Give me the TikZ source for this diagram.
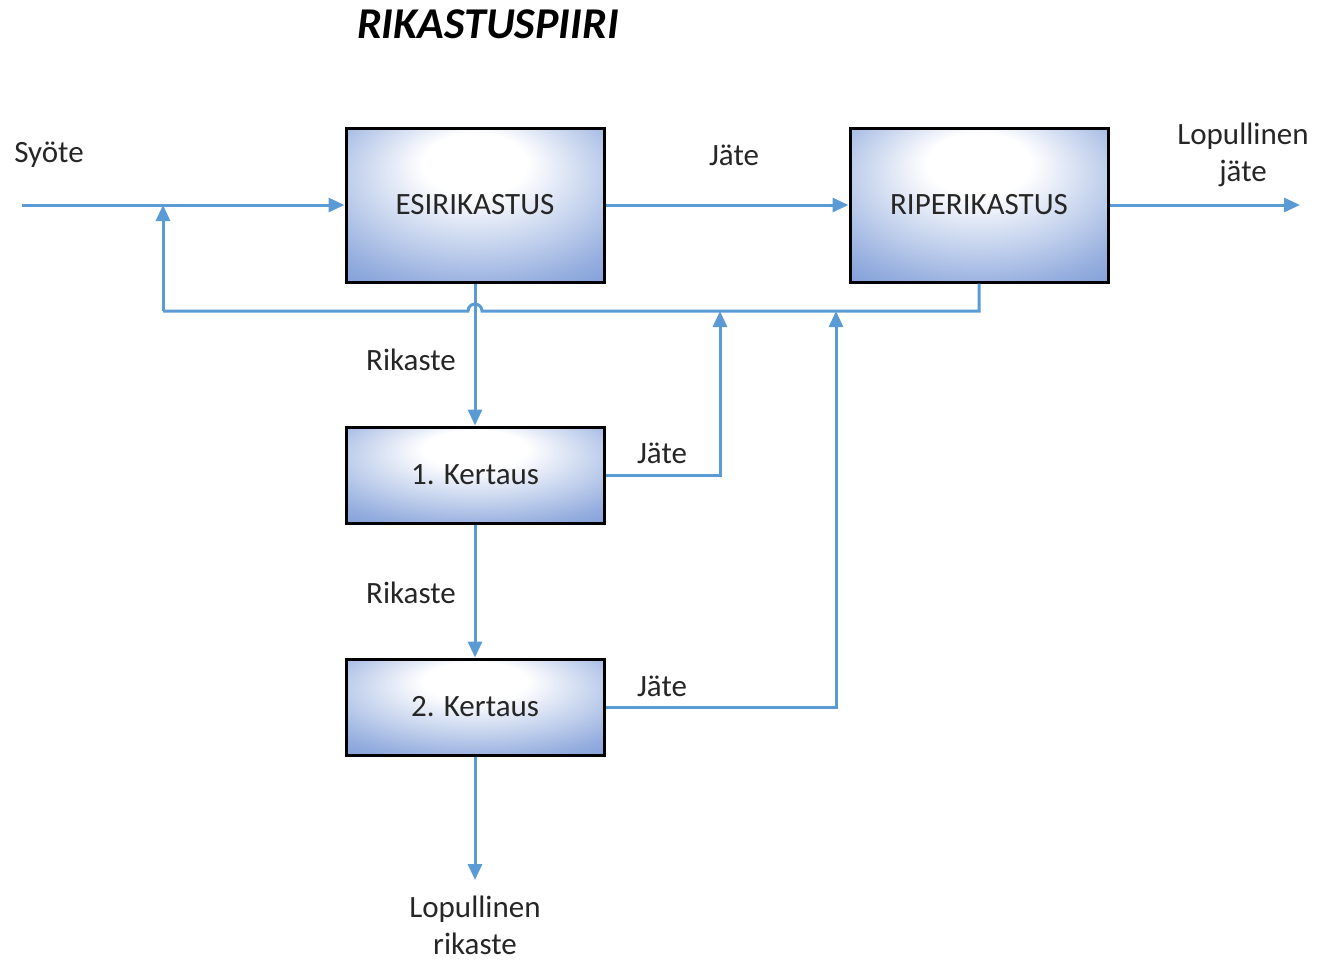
\documentclass[tikz,border=0pt]{standalone}
\usepackage{fontspec}
\setmainfont{Carlito}
\usetikzlibrary{arrows.meta}
\definecolor{lineblue}{RGB}{91,155,213}
\definecolor{boxblue}{RGB}{62,108,196}
\pgfdeclareradialshading{boxshade}{\pgfpoint{0bp}{16bp}}{color(0bp)=(white); color(10bp)=(white); color(34bp)=(boxblue!55); color(60bp)=(boxblue)}
\tikzset{
  every node/.style={font=\fontsize{31}{37}\selectfont, text=black!85},
  procbox/.style={draw=black, line width=3pt, shading=boxshade, minimum width=258pt, inner sep=0pt},
  flow/.style={draw=lineblue, line width=3pt},
  flowarrow/.style={flow, -{Triangle[length=16pt,width=14pt]}},
}
\begin{document}
\begin{tikzpicture}[x=1pt,y=-1pt]
\useasboundingbox (0,0) rectangle (1320,962);
\node[font=\fontsize{44}{50}\selectfont\bfseries\itshape, text=black] (title) at (488,24) {RIKASTUSPIIRI};

\node[procbox, minimum height=154pt] (esi) at (475,205) {ESIRIKASTUS};
\node[procbox, minimum height=154pt] (rip) at (979,205) {RIPERIKASTUS};
\node[procbox, minimum height=96pt] (k1) at (475,475) {1. Kertaus};
\node[procbox, minimum height=96pt] (k2) at (475,707) {2. Kertaus};

\coordinate (in) at (22,205);
\coordinate (out) at (1300,205);
\coordinate (fbend) at (163,205);
\coordinate (fin) at (475,880);
\coordinate (j1end) at (720,311);
\coordinate (j2end) at (836,311);

% feedback loop with hop
\draw[flow] (rip.south) -- (979,311) -- (482,311) arc[start angle=0, end angle=-180, radius=7] -- (163,311);
\draw[flowarrow] (163,311) -- (fbend);

\draw[flowarrow] (in) -- (esi.west);
\draw[flowarrow] (esi.east) -- (rip.west);
\draw[flowarrow] (rip.east) -- (out);
\draw[flowarrow] (esi.south) -- (k1.north);
\draw[flowarrow] (k1.south) -- (k2.north);
\draw[flowarrow] (k2.south) -- (fin);
\draw[flowarrow] (k1.east) -| (j1end);
\draw[flowarrow] (k2.east) -| (j2end);

\node (syote) at (49,155) {Syöte};
\node (jate0) at (734,155) {Jäte};
\node[align=center] (lopj) at (1243,155) {Lopullinen\\jäte};
\node (rik1) at (411,360) {Rikaste};
\node (rik2) at (411,593) {Rikaste};
\node (jate1) at (662,453) {Jäte};
\node (jate2) at (662,686) {Jäte};
\node[align=center] (lopr) at (475,925) {Lopullinen\\rikaste};
\end{tikzpicture}
\end{document}
